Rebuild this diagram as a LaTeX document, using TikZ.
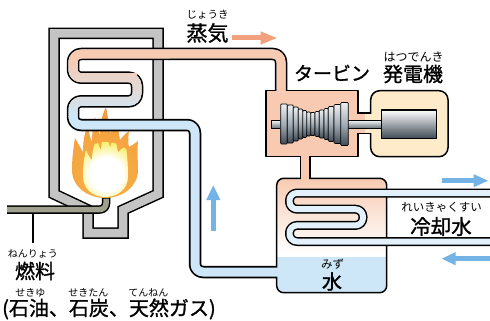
\documentclass[tikz,border=0pt]{standalone}
\usepackage{fontspec}
\newfontfamily\jp{Noto Sans CJK JP}
\newfontfamily\jpbold{Noto Sans CJK JP}[FakeBold=1.2]
\usetikzlibrary{arrows.meta}

\definecolor{wallgray}{HTML}{C4C4C4}
\definecolor{steampink}{HTML}{F8CAB1}
\definecolor{waterblue}{HTML}{CDE7F8}
\definecolor{coolblue}{HTML}{E2F1FB}
\definecolor{fuelgray}{HTML}{9FA18E}
\definecolor{gencream}{HTML}{FDEBC9}
\definecolor{arrowblue}{HTML}{74B3E5}
\definecolor{arroworange}{HTML}{F3A07E}
\definecolor{bladehi}{HTML}{EEF1F3}
\definecolor{blademid}{HTML}{A3ADB5}
\definecolor{bladelo}{HTML}{3F4B55}
\definecolor{flamered}{HTML}{E8502B}
\definecolor{flamemid}{HTML}{EF7D37}
\definecolor{flameorange}{HTML}{F39A3F}
\definecolor{flamecore}{HTML}{F7B444}
\definecolor{glowyellow}{HTML}{FBEF6A}
\definecolor{flameyellow}{HTML}{F7D51F}
\definecolor{flameamber}{HTML}{F3AD25}

\pgfdeclareradialshading{outerflame}{\pgfpointorigin}{%
  color(0bp)=(flamecore); color(25bp)=(flameorange); color(38bp)=(flamemid);
  color(50bp)=(flamered)}
\pgfdeclareradialshading{innerflame}{\pgfpointorigin}{%
  color(0bp)=(white); color(13bp)=(white); color(25bp)=(glowyellow);
  color(35bp)=(flameyellow); color(50bp)=(flameamber)}

\tikzset{
  pipeedge/.style={line width=12.5pt, rounded corners=8pt},
  pipefill/.style={line width=9pt, rounded corners=8pt},
  coiledge/.style={line width=9pt, rounded corners=7.5pt},
  coilfill/.style={line width=6pt, rounded corners=7.5pt, coolblue},
  bigjp/.style={font=\jpbold\fontsize{20}{22}\selectfont, inner sep=0pt},
  rubyjp/.style={font=\jp\fontsize{10.5}{12}\selectfont, inner sep=0pt},
  flow/.style={line width=5pt, -{Triangle[length=15pt,width=13pt]}},
  blade/.style={draw=black, line width=0.7pt, top color=bladehi,
    bottom color=bladelo, middle color=blademid},
}

% water/steam loop: turbine inlet, boiler coil, riser, condenser
\newcommand\looppath{(281,92.5) -- (281,54) -- (73,54) -- (73,77.7) -- (137,77.7)
  -- (137,101.3) -- (73,101.3) -- (73,125) -- (195,125) -- (195,272) -- (279,272)}
\newcommand\coolpath{(492,193) -- (289.5,193) -- (289.5,209.2) -- (363,209.2)
  -- (363,225.4) -- (289.5,225.4) -- (289.5,241.5) -- (492,241.5)}
\newcommand\wallpath{(54,33.5) -- (158,33.5) -- (158,194) -- (123,210) -- (123,233)
  -- (88,233) -- (88,210) -- (54,194) -- cycle}

\begin{document}
\begin{tikzpicture}[x=1pt, y=-1pt, line join=round]
\useasboundingbox (0,0) rectangle (490,321);

% boiler
\draw[line width=11.5pt, line join=miter] \wallpath;
\draw[wallgray, line width=8.5pt, line join=miter] \wallpath;

% fuel line
\draw[line width=8.5pt, rounded corners=6pt] (7,209.5) -- (106,209.5) -- (106,197);
\draw[fuelgray, line width=5.5pt, rounded corners=6pt] (7,209.5) -- (106,209.5) -- (106,198.5);
\coordinate (fueltap) at (33,213.5);
\coordinate (fuelmark) at (33,243);
\draw[line width=1.2pt] (fueltap) -- (fuelmark);

% flame
\begin{scope}
  \clip (105,198) .. controls (88,198) and (72,187) .. (72,170)
    .. controls (72,160) and (73,150) .. (75,138)
    .. controls (79,145) and (81,149) .. (83,152)
    .. controls (83,143) and (84,134) .. (88,125)
    .. controls (89,133) and (90,138) .. (92,142)
    .. controls (92,134) and (93,125) .. (95,117)
    .. controls (97,126) and (98,131) .. (100,135)
    .. controls (100,124) and (102,115) .. (106,107)
    .. controls (108,117) and (109,126) .. (110,133)
    .. controls (112,128) and (114,125) .. (118,121)
    .. controls (118,129) and (119,135) .. (120,140)
    .. controls (122,137) and (125,134) .. (129,131)
    .. controls (128,138) and (128,143) .. (129,147)
    .. controls (131,146) and (134,144) .. (138,141)
    .. controls (137,152) and (138,160) .. (138,170)
    .. controls (138,187) and (122,198) .. (105,198) -- cycle;
  \shade[shading=outerflame] (106,178) circle (70pt);
\end{scope}
\begin{scope}
  \clip (105,197) .. controls (93,197) and (83,189) .. (83,176)
    .. controls (83,166) and (84,158) .. (86,150)
    .. controls (88,155) and (90,158) .. (92,160)
    .. controls (92,152) and (94,144) .. (97,138)
    .. controls (98,143) and (99,147) .. (101,150)
    .. controls (101,143) and (103,135) .. (106,129)
    .. controls (107,136) and (108,142) .. (110,147)
    .. controls (111,143) and (113,140) .. (116,137)
    .. controls (116,143) and (117,148) .. (118,152)
    .. controls (120,150) and (123,148) .. (126,146)
    .. controls (127,155) and (128,164) .. (128,176)
    .. controls (128,189) and (118,197) .. (105,197) -- cycle;
  \shade[shading=innerflame] (106,174) circle (32pt);
\end{scope}

% pipe outlines
\draw[pipeedge] \looppath;
\draw[line width=11pt] (305,156) -- (305,179);

% turbine and generator housings
\draw[fill=steampink, line width=1.5pt] (266,90.7) rectangle (358,156.7);
\draw[fill=gencream, line width=1.5pt, rounded corners=9pt] (370.7,90.7) rectangle (448,156.7);
\fill[steampink] (357.2,113.7) rectangle (365,132.6);
\fill[gencream] (365,113.7) rectangle (371.6,132.6);
\draw[line width=1.5pt] (358,113) -- (371,113) (358,133.3) -- (371,133.3);

% condenser
\begin{scope}
  \clip[rounded corners=7pt] (276.7,178.3) rectangle (386.7,292.7);
  \shade[top color=steampink, bottom color=white] (276,178) rectangle (388,252);
  \fill[white] (276,252) rectangle (388,257);
  \fill[waterblue] (276,257) rectangle (388,294);
\end{scope}
\draw[line width=1.5pt, rounded corners=7pt] (276.7,178.3) rectangle (386.7,292.7);

% pipe insides, coil shaded from steam to water
\draw[pipefill, waterblue] \looppath;
\draw[pipefill, steampink] (281,92.5) -- (281,54) -- (73,54) -- (73,77.7) -- (137,77.7);
\foreach \i in {0,...,29} {
  \pgfmathtruncatemacro\mix{100-\i*100/29}
  \begin{scope}
    \clip (60,58+2*\i) rectangle (170,60.3+2*\i);
    \draw[pipefill, draw=steampink!\mix!waterblue] \looppath;
  \end{scope}
}
\draw[steampink, line width=8pt] (305,155.5) -- (305,180);

% cooling water coil
\draw[coiledge] \coolpath;
\draw[coilfill] \coolpath;

% rotor, shaft, generator
\draw[line width=0.8pt, top color=bladehi, bottom color=bladelo!80] (271,120.7) rectangle (383,128.3);
\foreach \xa/\xb/\h in {280.7/287.3/40, 287.3/293.3/38, 293.3/298.3/34, 298.3/302.7/30,
    302.7/306.7/27, 306.7/310.7/24, 310.7/315/23, 315/319.3/25, 319.3/324/28,
    324/328.3/31, 328.3/334/35, 334/340.7/39, 340.7/348.3/43}
  \draw[blade, rounded corners=1pt] (\xa,{124-\h/2}) rectangle (\xb,{124+\h/2});
\draw[line width=1.2pt, top color=white, middle color=blademid, bottom color=bladelo]
  (381.7,110) rectangle (436.7,138.3);

% flow arrows
\draw[flow, arroworange, -{Triangle[length=17pt,width=12pt]}] (231.5,38) -- (277.5,38);
\draw[flow, arrowblue] (213.3,230.5) -- (213.3,185);
\draw[flow, arrowblue, -{Triangle[length=15pt,width=12pt]}] (441.5,180.7) -- (488.5,180.7);
\draw[flow, arrowblue, -{Triangle[length=14pt,width=12pt]}] (491,258.7) -- (441.5,258.7);

% labels
\node[rubyjp] (joukiruby) at (207.5,15) {じょうき};
\node[bigjp, font=\jpbold\fontsize{21}{23}\selectfont] (jouki) at (207.5,33) {蒸気};
\node[bigjp, font=\jpbold\fontsize{19}{21}\selectfont] (turbine) at (332,73) {タービン};
\node[rubyjp, font=\jp\fontsize{12}{14}\selectfont] (hatsudenkiruby) at (413.5,57) {はつでんき};
\node[bigjp] (hatsudenki) at (413,74) {発電機};
\node[rubyjp, font=\jp\fontsize{11.5}{13}\selectfont] (reikyakuruby) at (441.7,207.5) {れいきゃくすい};
\node[bigjp, font=\jpbold\fontsize{20.5}{22}\selectfont] (reikyakusui) at (441,226.5) {冷却水};
\node[rubyjp, font=\jp\fontsize{11.5}{13}\selectfont] (mizuruby) at (332.5,264) {みず};
\node[bigjp] (mizu) at (332,281.5) {水};
\node[rubyjp, font=\jp\fontsize{10}{12}\selectfont] (nenryoruby) at (33,254) {ねんりょう};
\node[bigjp] (nenryo) at (35,271) {燃料};
\node[rubyjp, font=\jp\fontsize{10}{12}\selectfont] (sekiyuruby) at (30.5,293) {せきゆ};
\node[rubyjp, font=\jp\fontsize{10}{12}\selectfont] (sekitanruby) at (88.3,293) {せきたん};
\node[rubyjp, font=\jp\fontsize{10}{12}\selectfont] (tennenruby) at (148.3,293) {てんねん};
\node[bigjp, anchor=west] (fuels) at (2,309) {(石油、石炭、天然ガス)};
\end{tikzpicture}
\end{document}
